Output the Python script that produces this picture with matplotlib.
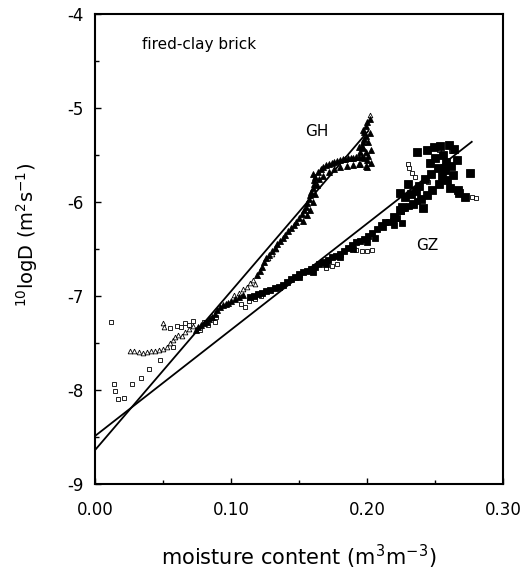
import numpy as np
import matplotlib
matplotlib.use('Agg')
import matplotlib.pyplot as plt
from matplotlib.ticker import MultipleLocator, FormatStrFormatter

plt.rcParams['font.family'] = ['DejaVu Sans']
plt.rcParams['axes.unicode_minus'] = False

# GH: open triangles (sparse part)
gh_open_x = [0.026, 0.029, 0.032, 0.035, 0.038, 0.041, 0.044, 0.047, 0.050, 0.053,
             0.055, 0.057, 0.050, 0.051, 0.059, 0.061, 0.064, 0.066, 0.069, 0.072,
             0.102, 0.106, 0.109, 0.112, 0.114, 0.116, 0.118, 0.127, 0.130, 0.133,
             0.202]
gh_open_y = [-7.58, -7.59, -7.60, -7.61, -7.60, -7.59, -7.59, -7.57, -7.56, -7.54,
             -7.50, -7.47, -7.29, -7.33, -7.44, -7.41, -7.43, -7.38, -7.35, -7.32,
             -6.99, -6.97, -6.93, -6.90, -6.86, -6.83, -6.87, -6.60, -6.55, -6.50,
             -5.07]

# GH: dense part (overlapping triangles print black)
gh_fill_x = [0.074, 0.076, 0.078, 0.080, 0.082, 0.084, 0.086, 0.088, 0.090, 0.092,
             0.094, 0.096, 0.098, 0.100, 0.103, 0.106, 0.109,
             0.119, 0.121, 0.123, 0.124, 0.126, 0.128, 0.130, 0.132, 0.134, 0.136,
             0.138, 0.140, 0.142, 0.144, 0.146, 0.148, 0.150, 0.152, 0.154, 0.155,
             0.156, 0.157, 0.158, 0.159, 0.160, 0.161, 0.161, 0.162, 0.164, 0.166,
             0.168, 0.170, 0.172, 0.174, 0.176, 0.178, 0.180, 0.182, 0.184, 0.186,
             0.188, 0.190, 0.192, 0.194, 0.196, 0.198, 0.200, 0.201, 0.199, 0.197,
             0.196, 0.197, 0.198, 0.199, 0.198, 0.197, 0.199, 0.200, 0.202,
             0.153, 0.156, 0.158, 0.160, 0.162, 0.163, 0.165, 0.168, 0.172, 0.176,
             0.180, 0.185, 0.190, 0.195, 0.199, 0.160, 0.203, 0.203, 0.194, 0.194,
             0.201, 0.200, 0.195, 0.202]
gh_fill_y = [-7.36, -7.33, -7.31, -7.29, -7.28, -7.25, -7.22, -7.19, -7.15, -7.12,
             -7.10, -7.09, -7.07, -7.05, -7.03, -7.01, -6.99,
             -6.78, -6.73, -6.69, -6.64, -6.60, -6.56, -6.52, -6.49, -6.45, -6.42,
             -6.38, -6.35, -6.31, -6.28, -6.24, -6.21, -6.17, -6.13, -6.09, -6.05,
             -6.01, -5.97, -5.93, -5.89, -5.85, -5.81, -5.77, -5.73, -5.68, -5.65,
             -5.63, -5.61, -5.60, -5.58, -5.57, -5.56, -5.55, -5.54, -5.54, -5.53,
             -5.53, -5.53, -5.52, -5.52, -5.52, -5.53, -5.55, -5.51, -5.47, -5.43,
             -5.40, -5.36, -5.33, -5.30, -5.26, -5.23, -5.19, -5.15, -5.12,
             -6.20, -6.14, -6.08, -6.00, -5.92, -5.82, -5.76, -5.72, -5.68, -5.65,
             -5.63, -5.62, -5.61, -5.60, -5.62, -5.70, -5.58, -5.45, -5.42, -5.60,
             -5.36, -5.63, -5.47, -5.27]

# GZ: open squares
gz_open_x = [0.012, 0.014, 0.015, 0.017, 0.021, 0.027, 0.034, 0.040, 0.048, 0.057,
             0.055, 0.060, 0.066, 0.072, 0.077, 0.083, 0.086, 0.063, 0.069, 0.080,
             0.089, 0.088, 0.107, 0.110, 0.113, 0.118, 0.122, 0.170, 0.174, 0.178,
             0.192, 0.196, 0.200, 0.204, 0.230, 0.231, 0.233, 0.235, 0.245, 0.277,
             0.280, 0.253, 0.262]
gz_open_y = [-7.28, -7.94, -8.01, -8.10, -8.08, -7.94, -7.87, -7.78, -7.68, -7.54,
             -7.34, -7.32, -7.29, -7.27, -7.36, -7.31, -7.23, -7.33, -7.31, -7.28,
             -7.22, -7.28, -7.08, -7.12, -7.05, -7.03, -7.00, -6.70, -6.68, -6.66,
             -6.51, -6.52, -6.52, -6.51, -5.60, -5.64, -5.69, -5.73, -5.79, -5.95,
             -5.96, -5.45, -5.46]

# GZ: dense band of small squares
gz_band_x = [0.114, 0.117, 0.120, 0.123, 0.126, 0.129, 0.132, 0.135, 0.138, 0.141,
             0.144, 0.147, 0.150, 0.153, 0.156, 0.159, 0.162, 0.165, 0.168, 0.171,
             0.174, 0.177, 0.180, 0.183, 0.186, 0.189, 0.192, 0.195, 0.198, 0.201,
             0.204, 0.207, 0.210, 0.213, 0.216, 0.219, 0.222, 0.225, 0.228, 0.231,
             0.234, 0.237,
             0.150, 0.160, 0.170, 0.180, 0.190, 0.200, 0.206, 0.212, 0.220, 0.226]
gz_band_y = [-7.01, -7.00, -6.98, -6.97, -6.95, -6.94, -6.92, -6.90, -6.88, -6.85,
             -6.82, -6.80, -6.77, -6.75, -6.73, -6.71, -6.69, -6.66, -6.64, -6.62,
             -6.59, -6.57, -6.55, -6.52, -6.49, -6.46, -6.43, -6.41, -6.39, -6.36,
             -6.33, -6.29, -6.24, -6.21, -6.21, -6.20, -6.17, -6.10, -6.06, -6.04,
             -6.02, -5.99,
             -6.80, -6.74, -6.66, -6.59, -6.50, -6.43, -6.38, -6.27, -6.25, -6.22]

# GZ: filled squares at high moisture content
gz_fill_x = [0.237, 0.244, 0.249, 0.254, 0.260, 0.264, 0.256, 0.250, 0.246, 0.258,
             0.262, 0.266, 0.252, 0.247, 0.243, 0.255, 0.259, 0.263, 0.276, 0.248,
             0.261, 0.267, 0.272, 0.224, 0.228, 0.232, 0.236, 0.240, 0.244, 0.226,
             0.234, 0.241, 0.220, 0.224, 0.230, 0.238, 0.253, 0.257, 0.268]
gz_fill_y = [-5.47, -5.45, -5.42, -5.40, -5.39, -5.44, -5.50, -5.53, -5.58, -5.57,
             -5.62, -5.55, -5.64, -5.70, -5.76, -5.72, -5.77, -5.71, -5.69, -5.87,
             -5.85, -5.87, -5.95, -5.90, -5.95, -5.92, -5.88, -5.97, -5.93, -6.05,
             -6.02, -6.06, -6.16, -6.09, -5.81, -5.83, -5.81, -5.66, -5.90]

# fitted lines: intercept, slope, upper x limit
gh_fit = (-8.64, 16.9, 0.201)
gz_fit = (-8.49, 11.3, 0.277)

fig = plt.figure(figsize=(5.23, 5.71), dpi=100)
ax = fig.add_axes([0.1816, 0.1524, 0.7802, 0.8231])

ax.plot(gz_open_x, gz_open_y, 's', mfc='white', mec='black', ms=3.4, mew=0.6)
ax.plot(gz_band_x, gz_band_y, 's', mfc='black', mec='black', ms=4.0, mew=0.6)
ax.plot(gz_fill_x, gz_fill_y, 's', mfc='black', mec='black', ms=6.0, mew=0.6)
ax.plot(gh_open_x, gh_open_y, '^', mfc='white', mec='black', ms=3.4, mew=0.6)
ax.plot(gh_fill_x, gh_fill_y, '^', mfc='black', mec='black', ms=4.6, mew=0.6)

for a, b, xmax in (gh_fit, gz_fit):
    xs = np.array([0.0, xmax])
    ax.plot(xs, a + b * xs, color='black', lw=1.3)

ax.set_xlim(0, 0.30)
ax.set_ylim(-9, -4)
ax.xaxis.set_major_locator(MultipleLocator(0.10))
ax.xaxis.set_minor_locator(MultipleLocator(0.05))
ax.yaxis.set_major_locator(MultipleLocator(1))
ax.yaxis.set_minor_locator(MultipleLocator(0.5))
ax.xaxis.set_major_formatter(FormatStrFormatter('%.2f'))
ax.yaxis.set_major_formatter(FormatStrFormatter('%d'))
ax.tick_params(which='both', direction='in', top=False, right=False, width=1)
ax.tick_params(which='major', length=4)
ax.tick_params(which='minor', length=3)
ax.tick_params(axis='x', pad=12, labelsize=12)
ax.tick_params(axis='y', pad=8, labelsize=12)
for s in ax.spines.values():
    s.set_linewidth(1.5)

ax.text(0.115, 0.936, 'fired-clay brick', transform=ax.transAxes, fontsize=11,
        va='center')
ax.text(0.163, -5.255, 'GH', fontsize=11, ha='center', va='center')
ax.text(0.244, -6.46, 'GZ', fontsize=11, ha='center', va='center')

ax.set_xlabel(r'moisture content (m$^{3}$m$^{\mathregular{-3}}$)', fontsize=15)
ax.xaxis.set_label_coords(0.5, -0.125)
ax.set_ylabel(r'$^{10}$logD (m$^{2}$s$^{\mathregular{-1}}$)', fontsize=14)
ax.yaxis.set_label_coords(-0.135, 0.53)

fig.savefig('out.png', dpi=100)
